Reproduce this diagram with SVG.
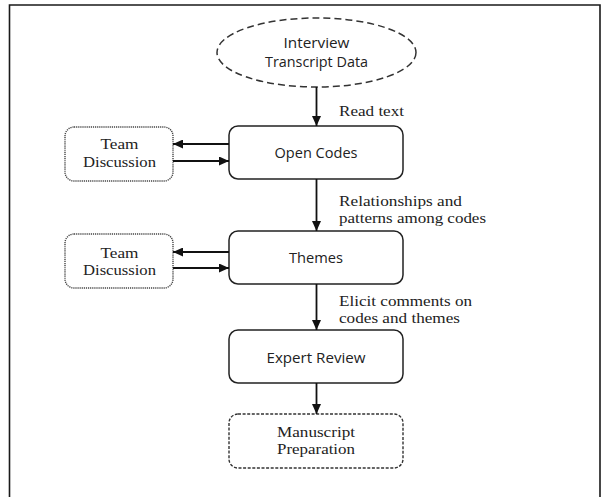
<svg xmlns="http://www.w3.org/2000/svg" width="609" height="497" viewBox="0 0 609 497">
<style>
.frame{fill:none;stroke:#1a1a1a;stroke-width:1.6}
.box{fill:#fff;stroke:#222;stroke-width:1.5}
.dotted{fill:#fff;stroke:#444;stroke-width:1.4;stroke-dasharray:1.2 0.9}
.dashed{fill:#fff;stroke:#333;stroke-width:1.4;stroke-dasharray:3 1.6}
.ell{fill:#fff;stroke:#333;stroke-width:1.5;stroke-dasharray:7 4}
.sans{font-family:"Open Sans","Liberation Sans",sans-serif;font-size:14.5px;fill:#222;text-anchor:middle}
.serif{font-family:"Liberation Serif","Times New Roman",serif;font-size:15.5px;fill:#222}
.mid{text-anchor:middle}
.conn{stroke:#111;stroke-width:1.8;fill:none;marker-end:url(#arr)}
</style>
<defs>
<marker id="arr" markerUnits="userSpaceOnUse" markerWidth="10" markerHeight="9" refX="10" refY="4.5" orient="auto">
<path d="M0,0 L10,4.5 L0,9 z" fill="#111"/>
</marker>
</defs>
<rect width="609" height="497" fill="#fff"/>
<path class="frame" d="M9.5,497 V5 H600 V497"/>

<g id="interview">
<ellipse class="ell" cx="316.5" cy="52.5" rx="99.5" ry="34.5"/>
<text class="sans" x="316.5" y="48" textLength="66" lengthAdjust="spacingAndGlyphs">Interview</text>
<text class="sans" x="316.5" y="67" textLength="103" lengthAdjust="spacingAndGlyphs">Transcript Data</text>
</g>

<g id="open-codes">
<rect class="box" x="229" y="126" width="174" height="53" rx="9"/>
<text class="sans" x="316" y="158" textLength="83" lengthAdjust="spacingAndGlyphs">Open Codes</text>
</g>

<g id="team-discussion-1">
<rect class="dotted" x="65" y="127" width="108" height="54" rx="9"/>
<text class="serif mid" x="119.5" y="149" textLength="38" lengthAdjust="spacingAndGlyphs">Team</text>
<text class="serif mid" x="119.5" y="167" textLength="73" lengthAdjust="spacingAndGlyphs">Discussion</text>
</g>

<g id="themes">
<rect class="box" x="229" y="231" width="174" height="53" rx="9"/>
<text class="sans" x="316" y="263" textLength="54" lengthAdjust="spacingAndGlyphs">Themes</text>
</g>

<g id="team-discussion-2">
<rect class="dotted" x="65" y="234" width="108" height="54" rx="9"/>
<text class="serif mid" x="119.5" y="258" textLength="38" lengthAdjust="spacingAndGlyphs">Team</text>
<text class="serif mid" x="119.5" y="275" textLength="73" lengthAdjust="spacingAndGlyphs">Discussion</text>
</g>

<g id="expert-review">
<rect class="box" x="229" y="330" width="174" height="53" rx="9"/>
<text class="sans" x="316" y="362.5" textLength="99" lengthAdjust="spacingAndGlyphs">Expert Review</text>
</g>

<g id="manuscript">
<rect class="dashed" x="229" y="414" width="174" height="54" rx="9"/>
<text class="serif mid" x="316" y="437" textLength="78" lengthAdjust="spacingAndGlyphs">Manuscript</text>
<text class="serif mid" x="316" y="454" textLength="78" lengthAdjust="spacingAndGlyphs">Preparation</text>
</g>

<g id="connectors">
<line class="conn" x1="316.5" y1="87" x2="316.5" y2="126"/>
<line class="conn" x1="316.5" y1="179" x2="316.5" y2="231"/>
<line class="conn" x1="316.5" y1="284" x2="316.5" y2="330"/>
<line class="conn" x1="316.5" y1="383" x2="316.5" y2="414"/>
<line class="conn" x1="229" y1="144" x2="173" y2="144"/>
<line class="conn" x1="173" y1="161" x2="229" y2="161"/>
<line class="conn" x1="229" y1="252" x2="173" y2="252"/>
<line class="conn" x1="173" y1="268" x2="229" y2="268"/>
<text class="serif" x="339" y="116" textLength="65" lengthAdjust="spacingAndGlyphs">Read text</text>
<text class="serif" x="339" y="206" textLength="123" lengthAdjust="spacingAndGlyphs">Relationships and</text>
<text class="serif" x="339" y="223" textLength="147" lengthAdjust="spacingAndGlyphs">patterns among codes</text>
<text class="serif" x="339" y="306" textLength="133" lengthAdjust="spacingAndGlyphs">Elicit comments on</text>
<text class="serif" x="339" y="323" textLength="121" lengthAdjust="spacingAndGlyphs">codes and themes</text>
</g>
</svg>
